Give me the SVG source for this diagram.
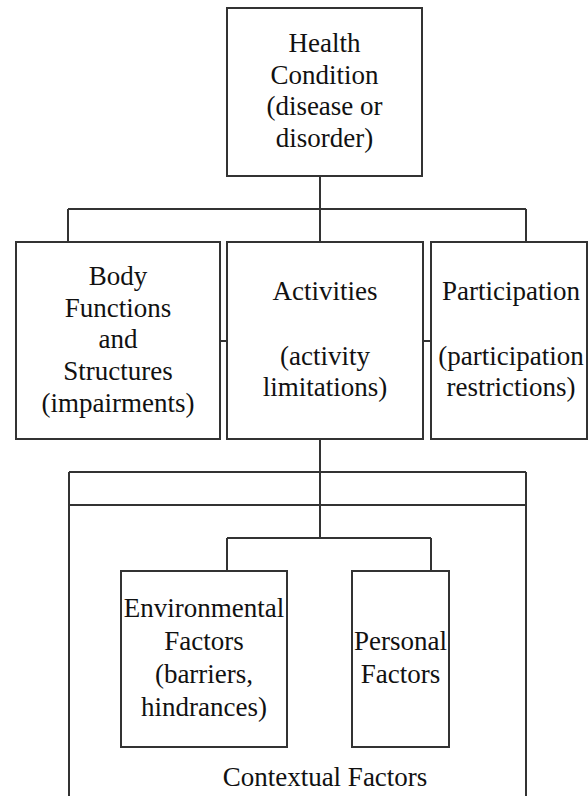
<svg xmlns="http://www.w3.org/2000/svg" width="588" height="796" viewBox="0 0 588 796">
<style>
.box{fill:#fff;stroke:#333;stroke-width:2}
.ln{fill:none;stroke:#333;stroke-width:2}
text{font-family:"Liberation Serif","Times New Roman",serif;font-size:27px;fill:#111;text-anchor:middle}
</style>
<rect width="588" height="796" fill="#fff"/>
<g id="connectors">
<path class="ln" d="M320,176 V242 M68,209 H526 M68,209 V242 M526,209 V242"/>
<path class="ln" d="M220,341 H227 M423,341 H431"/>
<path class="ln" d="M320,439 V538 M69,472 H526 M69,505 H526 M69,472 V796 M526,472 V796"/>
<path class="ln" d="M227,538 H431 M227,538 V571 M431,538 V571"/>
</g>
<g id="health-condition">
<rect class="box" x="227" y="8" width="195" height="168"/>
<text x="324.5" y="52">Health</text>
<text x="324.5" y="84">Condition</text>
<text x="324.5" y="115">(disease or</text>
<text x="324.5" y="147">disorder)</text>
</g>
<g id="body-functions">
<rect class="box" x="16" y="242" width="204" height="197"/>
<text x="118" y="285">Body</text>
<text x="118" y="317">Functions</text>
<text x="118" y="348">and</text>
<text x="118" y="380">Structures</text>
<text x="118" y="412">(impairments)</text>
</g>
<g id="activities">
<rect class="box" x="227" y="242" width="196" height="197"/>
<text x="325" y="300">Activities</text>
<text x="325" y="365">(activity</text>
<text x="325" y="396">limitations)</text>
</g>
<g id="participation">
<rect class="box" x="431" y="242" width="156" height="197"/>
<text x="511" y="300">Participation</text>
<text x="511" y="365">(participation</text>
<text x="511" y="396">restrictions)</text>
</g>
<g id="contextual-factors">
<text x="325" y="786">Contextual Factors</text>
</g>
<g id="environmental-factors">
<rect class="box" x="121" y="571" width="166" height="176"/>
<text x="204" y="617">Environmental</text>
<text x="204" y="650">Factors</text>
<text x="204" y="683">(barriers,</text>
<text x="204" y="716">hindrances)</text>
</g>
<g id="personal-factors">
<rect class="box" x="352" y="571" width="97" height="176"/>
<text x="400.5" y="650">Personal</text>
<text x="400.5" y="683">Factors</text>
</g>
</svg>
